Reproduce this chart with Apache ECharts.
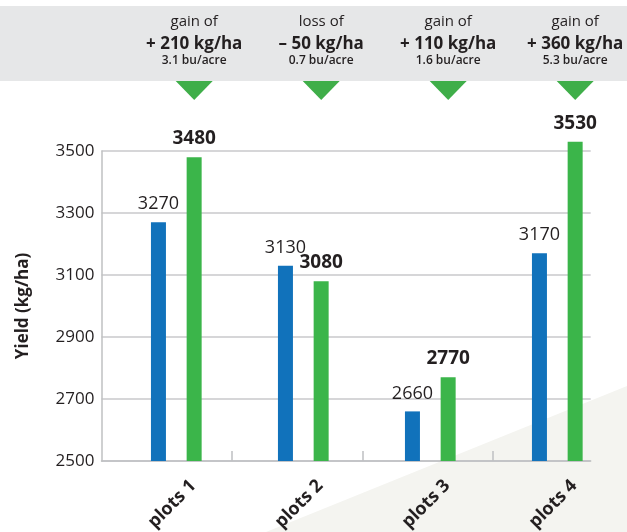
<!DOCTYPE html>
<html>
<head>
<meta charset="utf-8">
<script src="https://cdn.jsdelivr.net/npm/echarts@6/dist/echarts.min.js"></script>
<style>
html, body { margin: 0; padding: 0; background: #fff; }
#chart { width: 627px; height: 532px; }
</style>
</head>
<body>
<div id="chart"></div>
<script>
// data
var plots = ['plots 1', 'plots 2', 'plots 3', 'plots 4'];
var yieldBefore = [3270, 3130, 2660, 3170];
var yieldAfter = [3480, 3080, 2770, 3530];
var changeWord = ['gain of', 'loss of', 'gain of', 'gain of'];
var changeKg = ['+ 210 kg/ha', '\u2013 50 kg/ha', '+ 110 kg/ha', '+ 360 kg/ha'];
var changeBu = ['3.1 bu/acre', '0.7 bu/acre', '1.6 bu/acre', '5.3 bu/acre'];
var yMin = 2500, yMax = 3500, yStep = 200;

var ink = '#231f20';
var blue = '#1172bb';
var green = '#3bb54a';
var axisGrey = '#bfc0c2';

var myChart = echarts.init(document.getElementById('chart'));
var option = {
    animation: false,
    textStyle: { fontFamily: 'Open Sans' },
    grid: [
        // axes + gridlines
        { left: 101.5, right: 36.3, top: 151, bottom: 71, outerBoundsMode: 'none' },
        // bars (room above 3500)
        { left: 112.8, right: 6.2, top: 120, bottom: 71, outerBoundsMode: 'none' }
    ],
    xAxis: [
        {
            type: 'value', gridIndex: 0, min: 0, max: 3.75,
            axisLine: { show: true, lineStyle: { color: axisGrey, width: 1.5 } },
            axisTick: { show: true, inside: true, length: 10, customValues: [1, 2, 3],
                        lineStyle: { color: axisGrey, width: 1.5 } },
            axisLabel: { show: false },
            splitLine: { show: false }
        },
        {
            type: 'category', gridIndex: 1, data: plots,
            axisLine: { show: false },
            axisTick: { show: false },
            axisLabel: {
                interval: 0, rotate: 45, margin: 5, lineHeight: 48,
                formatter: function (v) { return '\n' + v; },
                fontSize: 18, fontWeight: 'bold', color: ink
            }
        }
    ],
    yAxis: [
        {
            type: 'value', gridIndex: 0, min: yMin, max: yMax, interval: yStep,
            name: 'Yield (kg/ha)', nameLocation: 'middle', nameGap: 70,
            nameTextStyle: { fontSize: 17, fontWeight: 'bold', color: ink },
            axisLine: { show: true, lineStyle: { color: axisGrey, width: 1.5 } },
            axisTick: { show: false },
            axisLabel: { fontSize: 17, color: ink, margin: 7,
                         formatter: function (v) { return String(v); } },
            splitLine: { lineStyle: { color: '#c8c9cb', width: 1.5 } }
        },
        { type: 'value', gridIndex: 1, min: yMin, max: 3600, show: false }
    ],
    series: [
        {
            name: 'before', type: 'bar', xAxisIndex: 1, yAxisIndex: 1,
            data: yieldBefore, barWidth: 15, barGap: '138%',
            itemStyle: { color: blue },
            label: { show: true, position: 'top', distance: 9, fontSize: 18, color: ink }
        },
        {
            name: 'after', type: 'bar', xAxisIndex: 1, yAxisIndex: 1,
            data: yieldAfter, barWidth: 15, barGap: '138%',
            itemStyle: { color: green },
            label: { show: true, position: 'top', distance: 9, fontSize: 19, fontWeight: 'bold', color: ink }
        }
    ]
};
myChart.setOption(option);

// header: grey band with change notes, centred over the green bars
var graphics = [
    { type: 'polygon', z: -10, silent: true,
      shape: { points: [[266, 532], [627, 386], [627, 532]] },
      style: { fill: '#f4f4f0' } },
    { type: 'rect', silent: true, shape: { x: 0, y: 6, width: 627, height: 75 },
      style: { fill: '#e6e7e8' } }
];
for (var i = 0; i < plots.length; i++) {
    var cx = myChart.convertToPixel({ xAxisIndex: 1 }, plots[i]) + 17.9;
    graphics.push({ type: 'polygon', silent: true,
        shape: { points: [[cx - 18.5, 81], [cx + 18.5, 81], [cx, 100]] },
        style: { fill: '#3fae49' } });
    graphics.push({ type: 'text', x: cx, y: 22, silent: true,
        style: { text: changeWord[i], fontFamily: 'Open Sans', fontSize: 15, fill: ink,
                 align: 'center', verticalAlign: 'middle' } });
    graphics.push({ type: 'text', x: cx, y: 44, silent: true,
        style: { text: changeKg[i], fontFamily: 'Open Sans', fontSize: 17, fontWeight: 'bold', fill: ink,
                 align: 'center', verticalAlign: 'middle' } });
    graphics.push({ type: 'text', x: cx, y: 61, silent: true,
        style: { text: changeBu[i], fontFamily: 'Open Sans', fontSize: 12, fontWeight: 600, fill: ink,
                 align: 'center', verticalAlign: 'middle' } });
}
myChart.setOption({ graphic: graphics });
</script>
</body>
</html>
